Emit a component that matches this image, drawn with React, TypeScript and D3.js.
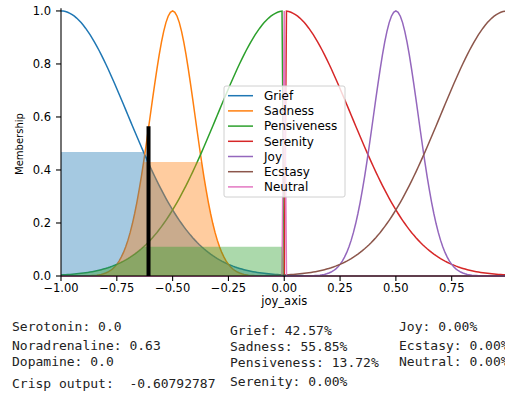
import React from "react";
import * as d3 from "d3";

// ---- data ----
const setNames = ["Grief", "Sadness", "Pensiveness", "Serenity", "Joy", "Ecstasy", "Neutral"];
const setColors = ["#1f77b4", "#ff7f0e", "#2ca02c", "#d62728", "#9467bd", "#8c564b", "#e377c2"];
// gaussian membership parameters (mean, sigma); side: -1 only x<0, 1 only x>0, 0 whole
const setMeans = [-1, -0.5, 0, 0, 0.5, 1, 0];
const setSigmas = [0.3, 0.1, 0.3, 0.3, 0.1, 0.3, 0];
const setSides = [0, 0, -1, 1, 0, 0, 0];
// activation (clip) levels used for the shaded areas
const activations = [0.4675, 0.43, 0.11, 0, 0, 0, 0];
const crispValue = -0.60792787;
const crispHeight = 0.565;
const xTicks = [-1, -0.75, -0.5, -0.25, 0, 0.25, 0.5, 0.75];
const yTicks = [0, 0.2, 0.4, 0.6, 0.8, 1.0];
const infoCol1 = ["Serotonin: 0.0", "Noradrenaline: 0.63", "Dopamine: 0.0", "Crisp output:  -0.60792787"];
const infoCol2 = ["Grief: 42.57%", "Sadness: 55.85%", "Pensiveness: 13.72%", "Serenity: 0.00%"];
const infoCol3 = ["Joy: 0.00%", "Ecstasy: 0.00%", "Neutral: 0.00%"];

const universe = d3.range(0, 201).map((i) => Math.round((-1 + i * 0.01) * 100) / 100);

function membership(k: number, x: number): number {
  if (setSigmas[k] === 0) return x === setMeans[k] ? 1 : 0;
  if (setSides[k] === -1 && x >= 0) return 0;
  if (setSides[k] === 1 && x <= 0) return 0;
  const d = x - setMeans[k];
  return Math.exp(-(d * d) / (2 * setSigmas[k] * setSigmas[k]));
}

export default function App() {
  const W = 505, H = 394;
  const x = d3.scaleLinear().domain([-1, 1]).range([61, 507.5]);
  const y = d3.scaleLinear().domain([0, 1.01]).range([276, 8.3]);
  const line = d3.line<[number, number]>().x((d) => x(d[0])).y((d) => y(d[1]));
  const area = d3
    .area<[number, number]>()
    .x((d) => x(d[0]))
    .y0(y(0))
    .y1((d) => y(d[1]));
  const minus = (s: string) => s.replace("-", "\u2212");
  const font = "DejaVu Sans";
  const mono = "DejaVu Sans Mono";
  const legendX = 224, legendY = 86;
  return (
    <div style={{ position: "absolute", left: 0, top: 0, width: W, height: H, overflow: "hidden", background: "#fff" }}>
      <svg width={W} height={H} style={{ display: "block" }}>
        <rect width={W} height={H} fill="#fff" />
        {setNames.map((n, k) => (
          <path
            key={"l" + n}
            d={line(universe.map((u) => [u, membership(k, u)] as [number, number])) || ""}
            fill="none"
            stroke={setColors[k]}
            strokeWidth={1.5}
          />
        ))}
        {setNames.map((n, k) =>
          activations[k] > 0 ? (
            <path
              key={"a" + n}
              d={area(universe.map((u) => [u, Math.min(membership(k, u), activations[k])] as [number, number])) || ""}
              fill={setColors[k]}
              fillOpacity={0.4}
              stroke="none"
            />
          ) : null
        )}
        <line x1={x(crispValue)} x2={x(crispValue)} y1={y(0)} y2={y(crispHeight)} stroke="#000" strokeWidth={4} />
        {/* spines */}
        <line x1={61} x2={61} y1={y(0)} y2={y(1.01)} stroke="#000" strokeWidth={1.1} />
        <line x1={61} x2={507.5} y1={y(0)} y2={y(0)} stroke="#000" strokeWidth={1.1} />
        {yTicks.map((t) => (
          <g key={"y" + t}>
            <line x1={56} x2={61} y1={y(t)} y2={y(t)} stroke="#000" strokeWidth={1.1} />
            <text x={51} y={y(t)} dy="0.36em" textAnchor="end" fontFamily={font} fontSize={11.5} fill="#000">
              {t.toFixed(1)}
            </text>
          </g>
        ))}
        {xTicks.map((t) => (
          <g key={"x" + t}>
            <line x1={x(t)} x2={x(t)} y1={276} y2={281} stroke="#000" strokeWidth={1.1} />
            <text x={x(t)} y={291.5} textAnchor="middle" fontFamily={font} fontSize={11.5} fill="#000">
              {minus(t.toFixed(2))}
            </text>
          </g>
        ))}
        <text x={x(0)} y={305} textAnchor="middle" fontFamily={font} fontSize={11.5} fill="#000">
          joy_axis
        </text>
        <text
          transform={`translate(23,144) rotate(-90)`}
          textAnchor="middle"
          fontFamily={font}
          fontSize={10}
          fill="#000"
        >
          Membership
        </text>
        {/* legend */}
        <rect x={legendX} y={legendY} width={121} height={111} rx={2} fill="#fff" fillOpacity={0.8} stroke="#d0d0d0" strokeWidth={1} />
        {setNames.map((n, k) => (
          <g key={"lg" + n}>
            <line x1={228} x2={253} y1={95.7 + k * 15.2} y2={95.7 + k * 15.2} stroke={setColors[k]} strokeWidth={1.5} />
            <text x={264} y={95.7 + k * 15.2} dy="0.36em" fontFamily={font} fontSize={12} fill="#000">
              {n}
            </text>
          </g>
        ))}
        {/* info text */}
        {infoCol1.map((s, i) => (
          <text key={"c1" + i} x={12} y={[331, 349.5, 366, 388][i]} fontFamily={mono} fontSize={13} fill="#222" style={{ whiteSpace: "pre" }}>
            {s}
          </text>
        ))}
        {infoCol2.map((s, i) => (
          <text key={"c2" + i} x={230} y={[334.5, 351, 367, 386][i]} fontFamily={mono} fontSize={13} fill="#222">
            {s}
          </text>
        ))}
        {infoCol3.map((s, i) => (
          <text key={"c3" + i} x={399} y={[331, 349.5, 366][i]} fontFamily={mono} fontSize={13} fill="#222">
            {s}
          </text>
        ))}
      </svg>
    </div>
  );
}
